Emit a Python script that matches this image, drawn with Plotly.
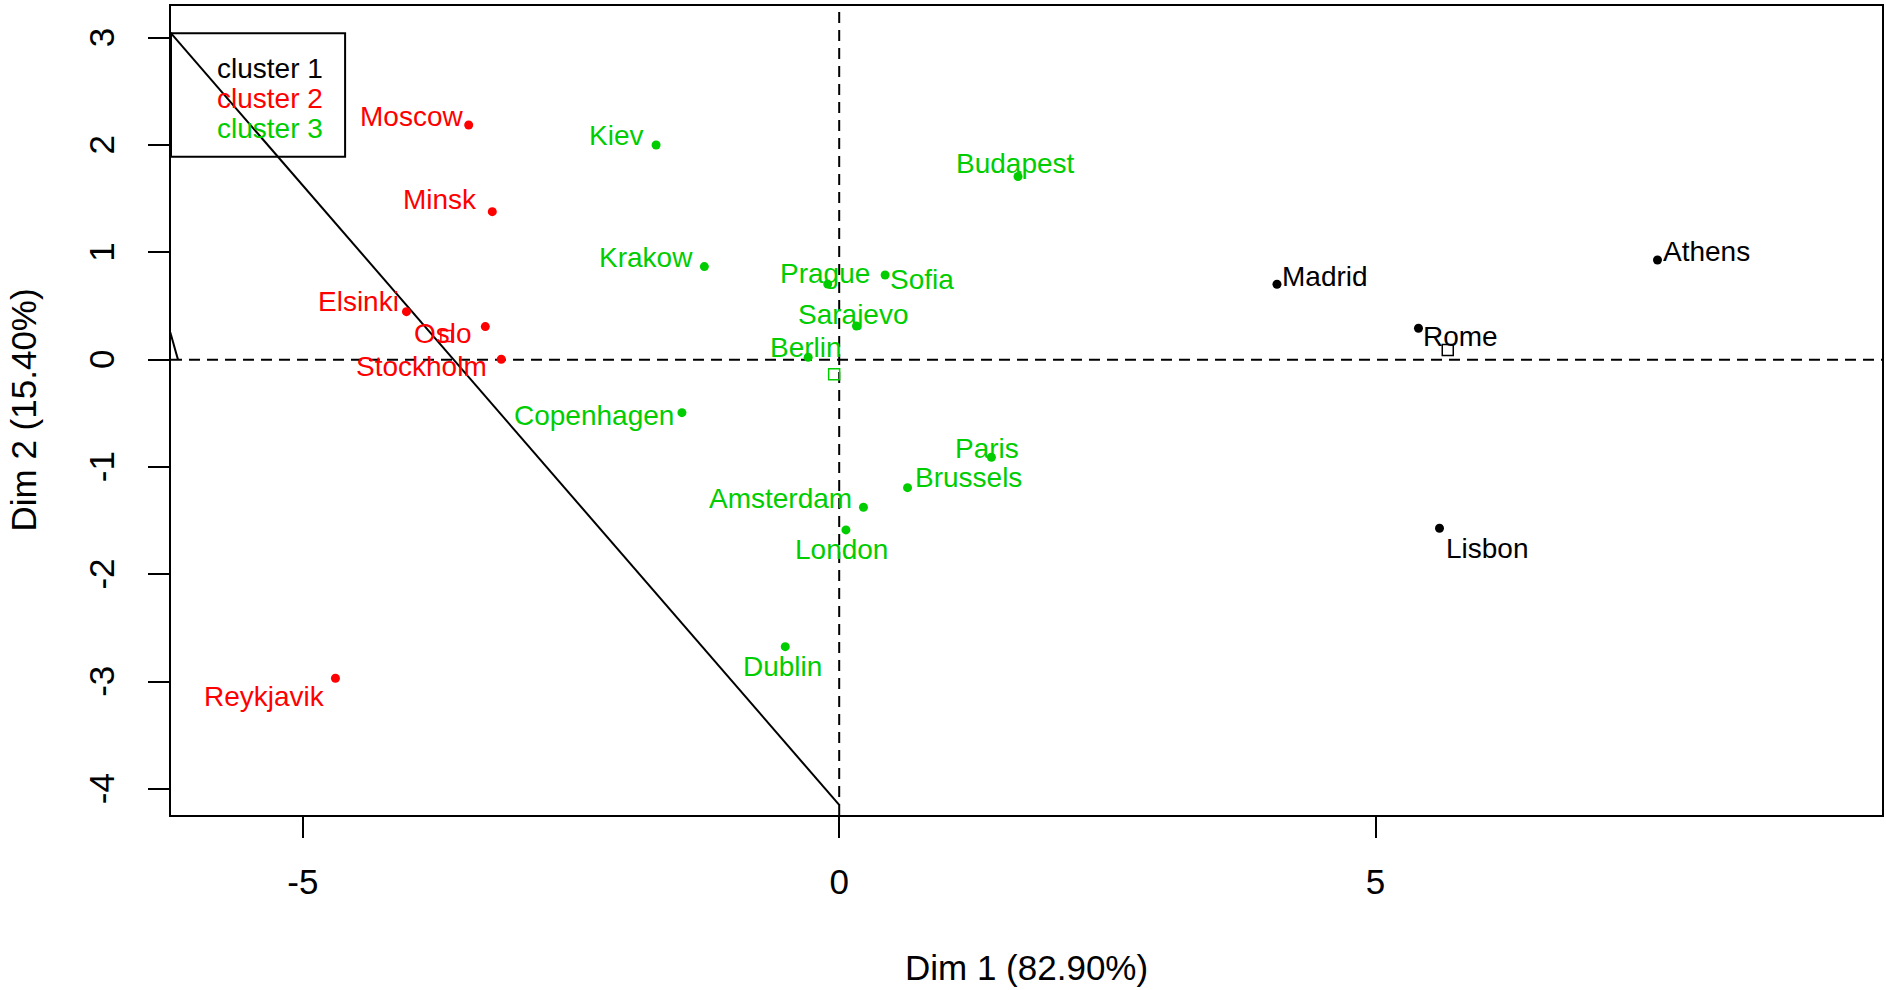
import plotly.graph_objects as go

# ---------------- data ----------------
cities = ["Moscow", "Minsk", "Elsinki", "Oslo", "Stockholm", "Reykjavik",
          "Kiev", "Krakow", "Budapest", "Prague", "Sofia", "Sarajevo", "Berlin",
          "Copenhagen", "Paris", "Brussels", "Amsterdam", "London", "Dublin",
          "Madrid", "Rome", "Athens", "Lisbon"]
dim1 = [-3.454, -3.234, -4.034, -3.299, -3.150, -4.696,
        -1.707, -1.257, 1.667, -0.107, 0.428, 0.161, -0.289,
        -1.466, 1.419, 0.637, 0.226, 0.063, -0.503,
        4.081, 5.400, 7.628, 5.596]
dim2 = [2.187, 1.379, 0.447, 0.308, 0.004, -2.969,
        2.001, 0.867, 1.707, 0.704, 0.789, 0.314, 0.022,
        -0.494, -0.910, -1.193, -1.376, -1.587, -2.675,
        0.703, 0.293, 0.929, -1.571]
cluster = [2, 2, 2, 2, 2, 2,
           3, 3, 3, 3, 3, 3, 3,
           3, 3, 3, 3, 3, 3,
           1, 1, 1, 1]

center_cluster = [1, 2, 3]
center_dim1 = [5.673, -3.662, -0.047]
center_dim2 = [0.091, 0.221, -0.136]

legend_labels = ["cluster 1", "cluster 2", "cluster 3"]

x_ticks = [-5, 0, 5]
x_tick_labels = ["-5", "0", "5"]
y_ticks = [-4, -3, -2, -1, 0, 1, 2, 3]
y_tick_labels = ["-4", "-3", "-2", "-1", "0", "1", "2", "3"]

# separating lines drawn on the map
line1_x = [-6.30, 0.0]
line1_y = [3.124, -4.15]
line2_x = [-6.35, -6.164]
line2_y = [0.66, 0.0]

x_title = "Dim 1 (82.90%)"
y_title = "Dim 2 (15.40%)"

# ---------------- styles ----------------
colors = {1: "#000000", 2: "#FF0000", 3: "#00CD00"}
FONT = "Liberation Sans, Arial, Helvetica, sans-serif"
FS = 28        # point labels / legend (cex 0.8)
FS_AX = 35     # axis ticks / titles (cex 1)
# label offsets in pixels (dx right, dy down)
label_offsets = {
    "Moscow": (-57, -8), "Minsk": (-52, -12), "Elsinki": (-48, -10),
    "Oslo": (-42, 7), "Stockholm": (-80, 7), "Reykjavik": (-71, 18),
    "Kiev": (-40, -9), "Krakow": (-58, -9), "Budapest": (-3, -13),
    "Prague": (-3, -11), "Sofia": (37, 5), "Sarajevo": (-3, -11),
    "Berlin": (-2, -10), "Copenhagen": (-88, 3), "Paris": (-4, -9),
    "Brussels": (61, -10), "Amsterdam": (-83, -9), "London": (-4, 20),
    "Dublin": (-3, 20), "Madrid": (48, -8), "Rome": (42, 8),
    "Athens": (49, -8), "Lisbon": (48, 20),
}
X_RANGE = [-6.229, 9.721]
Y_RANGE = [-4.244, 3.296]

fig = go.Figure()

# dashed axes lines
fig.add_trace(go.Scatter(x=X_RANGE, y=[0, 0], mode="lines",
                         line=dict(color="black", width=2, dash="11px,7px"),
                         hoverinfo="skip", showlegend=False))
fig.add_trace(go.Scatter(x=[0, 0], y=Y_RANGE, mode="lines",
                         line=dict(color="black", width=2, dash="11px,7px"),
                         hoverinfo="skip", showlegend=False))

# separating lines
fig.add_trace(go.Scatter(x=line1_x, y=line1_y, mode="lines",
                         line=dict(color="black", width=2),
                         hoverinfo="skip", showlegend=False))
fig.add_trace(go.Scatter(x=line2_x, y=line2_y, mode="lines",
                         line=dict(color="black", width=2),
                         hoverinfo="skip", showlegend=False))

# points per cluster
for k in [1, 2, 3]:
    xs = [x for x, c in zip(dim1, cluster) if c == k]
    ys = [y for y, c in zip(dim2, cluster) if c == k]
    fig.add_trace(go.Scatter(x=xs, y=ys, mode="markers",
                             marker=dict(color=colors[k], size=9, symbol="circle"),
                             showlegend=False))

# cluster centres
fig.add_trace(go.Scatter(x=center_dim1, y=center_dim2, mode="markers",
                         marker=dict(symbol="square-open", size=11,
                                     color=[colors[k] for k in center_cluster],
                                     line=dict(width=1.5)),
                         showlegend=False))

# point labels
for name, x, y, c in zip(cities, dim1, dim2, cluster):
    dx, dy = label_offsets[name]
    fig.add_annotation(x=x, y=y, text=name, showarrow=False,
                       xanchor="center", yanchor="middle",
                       xshift=dx, yshift=-dy,
                       font=dict(family=FONT, size=FS, color=colors[c]))

# legend box (user coordinates like R's legend)
LEG_X0, LEG_X1 = -6.229, -4.606
LEG_Y0, LEG_Y1 = 1.892, 3.042
fig.add_shape(type="rect", xref="x", yref="y", x0=LEG_X0, x1=LEG_X1,
              y0=LEG_Y0, y1=LEG_Y1, line=dict(color="black", width=2),
              fillcolor="rgba(0,0,0,0)")
leg_text_x = -4.789
leg_text_y = [2.716, 2.436, 2.157]
for lab, ly, k in zip(legend_labels, leg_text_y, center_cluster):
    fig.add_annotation(x=leg_text_x, y=ly, text=lab, showarrow=False,
                       xanchor="right", yanchor="middle",
                       font=dict(family=FONT, size=FS, color=colors[k]))

# axis titles
fig.add_annotation(x=0.5, y=0, xref="paper", yref="paper", text=x_title,
                   showarrow=False, xanchor="center", yanchor="middle",
                   yshift=-152, font=dict(family=FONT, size=FS_AX, color="black"))
fig.add_annotation(x=0, y=0.5, xref="paper", yref="paper", text=y_title,
                   showarrow=False, xanchor="center", yanchor="middle",
                   textangle=-90, xshift=-148,
                   font=dict(family=FONT, size=FS_AX, color="black"))

fig.update_layout(
    width=1886, height=990,
    margin=dict(l=171, r=2, t=6, b=175),
    paper_bgcolor="white", plot_bgcolor="white",
    showlegend=False,
    font=dict(family=FONT, size=FS, color="black"),
)
fig.update_xaxes(range=X_RANGE, showgrid=False, zeroline=False,
                 showline=True, mirror=True, linecolor="black", linewidth=2,
                 ticks="outside", ticklen=21, tickwidth=1.5, tickcolor="black",
                 tickvals=x_ticks, ticktext=x_tick_labels,
                 ticklabelstandoff=14,
                 tickfont=dict(family=FONT, size=FS_AX, color="black"))
fig.update_yaxes(range=Y_RANGE, showgrid=False, zeroline=False,
                 showline=True, mirror=True, linecolor="black", linewidth=2,
                 ticks="outside", ticklen=21, tickwidth=1.5, tickcolor="black",
                 tickvals=y_ticks, ticktext=y_tick_labels, tickangle=-90,
                 ticklabelstandoff=20, ticklabelshift=5,
                 tickfont=dict(family=FONT, size=FS_AX, color="black"))

fig.write_html("out.html")
